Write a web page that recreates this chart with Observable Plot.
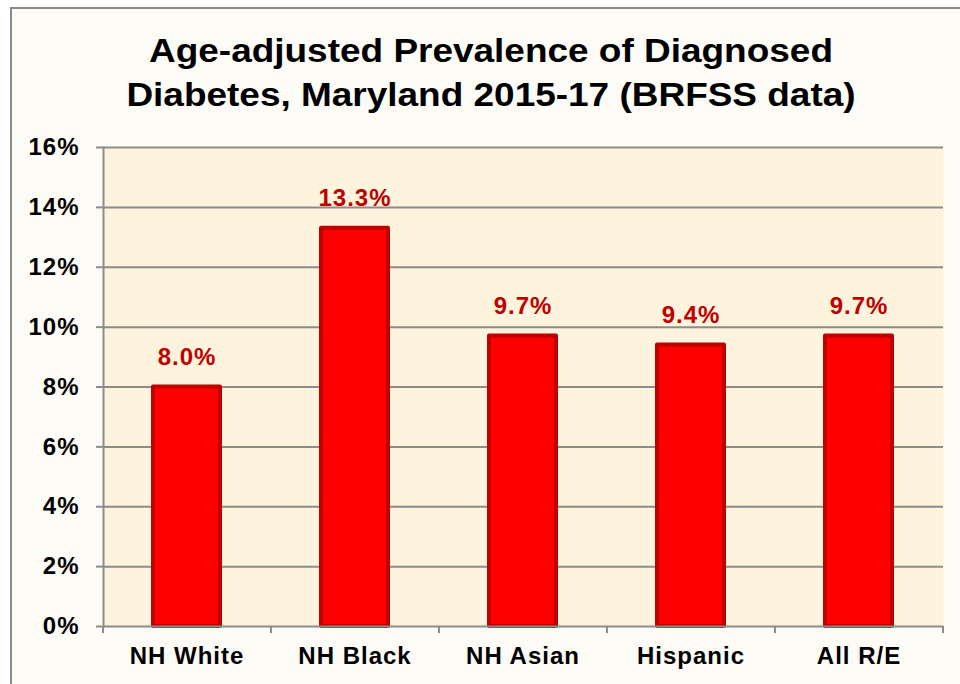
<!DOCTYPE html>
<html><head><meta charset="utf-8">
<script src="https://cdn.jsdelivr.net/npm/d3@7"></script>
<script src="https://cdn.jsdelivr.net/npm/@observablehq/plot@0.6"></script>
<style>
html,body{margin:0;padding:0;background:#fff;width:960px;height:684px;overflow:hidden;font-family:Arial,"Liberation Sans",sans-serif;}
#frame{position:absolute;left:10px;top:7px;width:960px;height:700px;border-left:2px solid #8a8a8a;border-top:2px solid #8a8a8a;background:#fdfbf6;}
#title{position:absolute;left:11px;top:29px;width:960px;text-align:center;font-size:33px;font-weight:bold;line-height:44px;color:#000;transform:scaleX(1.12);}
#chart{position:absolute;left:0;top:120px;}
#chart svg text{letter-spacing:1px;}
</style></head><body>
<div id="frame"></div>
<div id="title">Age-adjusted Prevalence of Diagnosed<br>Diabetes, Maryland 2015-17 (BRFSS data)</div>
<div id="chart"></div>
<script>
const categories = ["NH White", "NH Black", "NH Asian", "Hispanic", "All R/E"];
const values = [8.0, 13.3, 9.7, 9.4, 9.7];
const yTicks = [0, 2, 4, 6, 8, 10, 12, 14, 16];

const data = categories.map((c, i) => ({category: c, value: values[i]}));
const W = 960, H = 564, mL = 103, mR = 17, mT = 27, mB = 58;
const step = (W - mL - mR) / categories.length;
const grid = "#8c8c8c";

const chart = Plot.plot({
  width: W, height: H,
  marginLeft: mL, marginRight: mR, marginTop: mT, marginBottom: mB,
  style: {fontFamily: "Arial, 'Liberation Sans', sans-serif", background: "transparent", overflow: "visible"},
  x: {domain: categories, paddingInner: 0.6, paddingOuter: 0.3, label: null},
  y: {domain: [0, 16], label: null},
  marks: [
    Plot.frame({fill: "#fef3dc", stroke: null}),
    Plot.ruleY(yTicks.filter(d => d > 0), {stroke: grid, strokeWidth: 2}),
    Plot.frame({anchor: "left", stroke: grid, strokeWidth: 2}),
    Plot.barY(data, {x: "category", y: "value", fill: "#ff0000", stroke: "#c00000", strokeWidth: 4, strokeLinejoin: "round"}),
    Plot.ruleY([0], {stroke: grid, strokeWidth: 2}),
    Plot.ruleX(categories, {x: d => d, dx: -step / 2, y1: 0, y2: 0, insetBottom: -7, stroke: grid, strokeWidth: 2}),
    Plot.ruleX(categories.slice(-1), {x: d => d, dx: step / 2, y1: 0, y2: 0, insetBottom: -7, stroke: grid, strokeWidth: 2}),
    Plot.axisY({ticks: yTicks, tickFormat: d => d + "%", tickSize: 7, tickPadding: 17, fontSize: 24, fontWeight: "bold", stroke: grid, strokeWidth: 2, fill: "#000"}),
    Plot.axisX({tickSize: 0, tickPadding: 20, fontSize: 24, fontWeight: "bold", fill: "#000"}),
    Plot.text(data, {x: "category", y: "value", text: d => d.value.toFixed(1) + "%", dy: -30, lineAnchor: "middle", fill: "#c00000", fontSize: 24, fontWeight: "bold"})
  ]
});
document.getElementById("chart").appendChild(chart);
</script>
</body></html>
